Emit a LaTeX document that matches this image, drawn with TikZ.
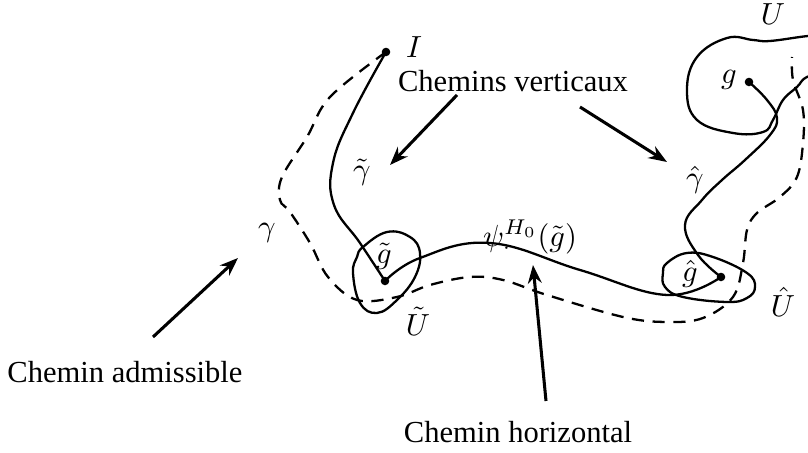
\documentclass[tikz,border=0pt]{standalone}
\usepackage{fontspec}
\setmainfont{Liberation Serif}
\usetikzlibrary{arrows.meta}
\tikzset{
  pathline/.style={line width=0.75pt,line cap=round},
  admline/.style={line width=0.75pt,dash pattern=on 4pt off 2.8pt},
  pointer/.style={-{Stealth[length=6pt,width=4.5pt]},line width=1pt},
  dotpt/.style={circle,fill,inner sep=0pt,minimum size=2.8pt},
  lbl/.style={inner sep=1pt}
}
\begin{document}
\begin{tikzpicture}[x=0.0115cm,y=-0.0115cm]
  \useasboundingbox (0,0) rectangle (808,453);
  \clip (0,0) rectangle (808,453);
  % points
  \node[dotpt] (I) at (386,52) {};
  \node[dotpt] (g) at (749,82) {};
  \node[dotpt] (gt) at (385,281) {};
  \node[dotpt] (gh) at (721,277) {};
  % labels
  \node[lbl] (Ilab) at (414,47) {$I$};
  \node[lbl] (glab) at (729,80) {$g$};
  \node[lbl] (Ulab) at (773,14) {$U$};
  \node[lbl] (gtlab) at (384,256) {$\tilde g$};
  \node[lbl] (Utlab) at (418,321) {$\tilde U$};
  \node[lbl] (ghlab) at (690,274) {$\hat g$};
  \node[lbl] (Uhlab) at (783,302) {$\hat U$};
  \node[lbl] (gamt) at (362,172) {$\tilde\gamma$};
  \node[lbl] (gamh) at (695,180) {$\hat\gamma$};
  \node[lbl] (gam) at (267,233) {$\gamma$};
  \node[lbl] (psi) at (530,237) {$\psi^{H_0}_{\cdot}(\tilde g)$};
  % texts
  \node (adm) at (125,372) {Chemin admissible};
  \node (hor) at (518,432) {Chemin horizontal};
  \node (vert) at (513,81) {Chemins verticaux};
  % neighbourhoods
  \draw[pathline] plot[smooth cycle,tension=0.7] coordinates {(363,247) (387,232) (410,237) (420,253) (415,277) (397,300) (377,313) (360,303) (353,273) (357,257)};
  \draw[pathline] plot[smooth cycle,tension=0.7] coordinates {(667,263) (687,253) (713,257) (747,273) (755,287) (747,298) (727,302) (683,297) (665,287) (663,273)};
  \draw[pathline] plot[smooth,tension=0.7] coordinates {(830,70) (807,77) (797,87) (783,100) (773,120) (763,132) (733,133) (697,120) (687,90) (697,57) (727,38) (753,40) (770,41) (808,36) (830,35)};
  % vertical paths
  \draw[pathline] plot[smooth,tension=0.7] coordinates {(I) (353,113) (333,163) (334,205) (360,243) (gt)};
  \draw[pathline] plot[smooth,tension=0.7] coordinates {(gh) (698,255) (685,225) (702,200) (722,180) (745,160) (770,135) (777,118) (767,100) (g)};
  % horizontal path
  \draw[pathline] plot[smooth,tension=0.7] coordinates {(gt) (420,258) (490,243) (580,270) (667,295) (gh)};
  % admissible path
  \draw[admline] plot[smooth,tension=0.6] coordinates {(I) (330,97) (307,137) (282,177) (280,200) (290,212) (310,243) (328,277) (357,300) (397,297) (430,285) (470,277) (503,280) (547,295) (623,317) (667,322) (703,318) (733,297) (743,263) (747,230) (757,213) (780,197) (797,177) (803,143) (803,110) (793,80) (792,57)};
  % arrows
  \coordinate (admtip) at (238,258);
  \coordinate (admfoot) at (153,337);
  \coordinate (hortip) at (533,265);
  \coordinate (horfoot) at (546,401);
  \coordinate (vltip) at (390,165);
  \coordinate (vlfoot) at (457,95);
  \coordinate (vrtip) at (667,162);
  \coordinate (vrfoot) at (580,107);
  \draw[pointer] (admfoot) -- (admtip);
  \draw[pointer] (horfoot) -- (hortip);
  \draw[pointer] (vlfoot) -- (vltip);
  \draw[pointer] (vrfoot) -- (vrtip);
\end{tikzpicture}
\end{document}
